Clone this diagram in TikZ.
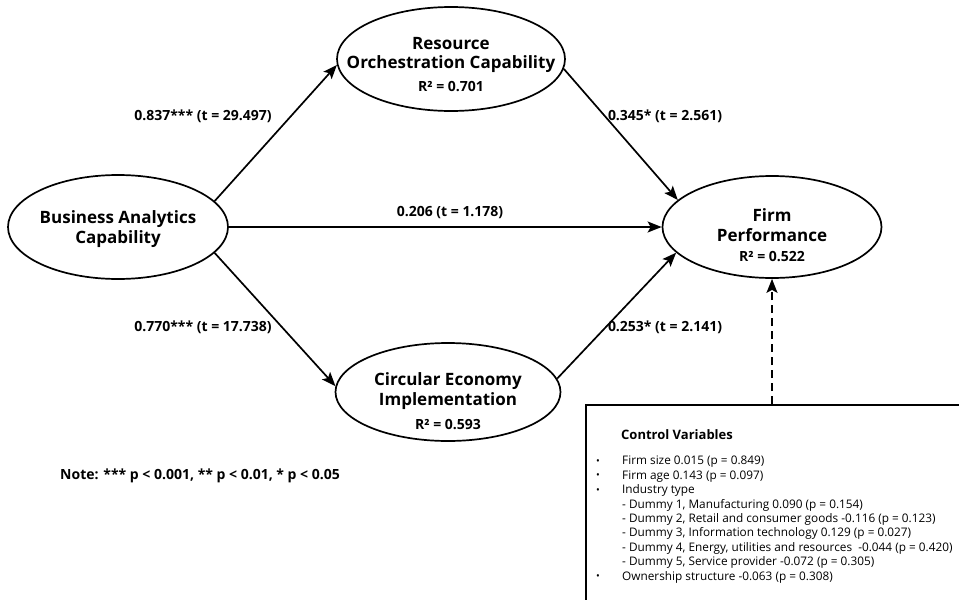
\documentclass[tikz,border=0pt]{standalone}
\usepackage{fontspec}
\setmainfont{Open Sans}
\usetikzlibrary{shapes.geometric,arrows.meta}

\begin{document}
\begin{tikzpicture}[x=1pt,y=-1pt,
  construct/.style={ellipse, draw, line width=1.7pt, inner sep=0pt},
  link/.style={line width=1.7pt, -{Stealth[length=14pt,width=11pt,inset=3pt]}},
  coef/.style={font=\fontsize{14}{16}\selectfont\bfseries},
  ctext/.style={font=\fontsize{17}{19.5}\selectfont\bfseries, align=center},
  rsq/.style={font=\fontsize{14}{16}\selectfont\bfseries},
  ctrltext/.style={font=\fontsize{11.8}{14.4}\selectfont, align=left, anchor=north west, inner sep=0pt},
]
\useasboundingbox (0,0) rectangle (959,600);
\clip (0,0) rectangle (959,600);

% latent constructs
\node[construct, minimum width=220pt, minimum height=104pt] (ba)  at (118,227) {};
\node[construct, minimum width=228pt, minimum height=104pt] (roc) at (451,59) {};
\node[construct, minimum width=219pt, minimum height=102pt] (fp)  at (772,227) {};
\node[construct, minimum width=225pt, minimum height=98pt]  (ce)  at (448,392) {};

\node[ctext] (batxt)  at (118,229) {Business Analytics\\Capability};
\node[ctext] (roctxt) at (451,55)  {Resource\\Orchestration Capability};
\node[rsq]   (rocr)   at (451,87)  {R² = 0.701};
\node[ctext] (fptxt)  at (772,225) {Firm\\Performance};
\node[rsq]   (fpr)    at (772,257) {R² = 0.522};
\node[ctext] (cetxt)  at (448,391) {Circular Economy\\Implementation};
\node[rsq]   (cer)    at (448,425) {R² = 0.593};

% structural paths
\draw[link] (ba.15)   -- (roc.183);
\draw[link] (ba.east) -- (fp.west);
\draw[link] (ba.-15)  -- (ce.177);
\draw[link] (roc.-5)  -- (fp.164);
\draw[link] (ce.7)    -- (fp.195);

% path coefficients
\node[coef] (c1) at (203,116) {0.837*** (t = 29.497)};
\node[coef] (c2) at (665,116) {0.345* (t = 2.561)};
\node[coef] (c3) at (450,213) {0.206 (t = 1.178)};
\node[coef] (c4) at (203,327) {0.770*** (t = 17.738)};
\node[coef] (c5) at (665,327) {0.253* (t = 2.141)};

\node[coef] (note) at (200,476) {Note: *** p < 0.001, ** p < 0.01, * p < 0.05};

% control variables
\node[draw, line width=1.5pt, minimum width=400pt, minimum height=220pt,
      anchor=north west, inner sep=0pt] (ctrl) at (585,404) {};
\draw[line width=1.7pt, dash pattern=on 8pt off 5pt,
      -{Stealth[length=14pt,width=11pt,inset=3pt]}] (ctrl.north -| fp.south) -- (fp.south);

\node[font=\fontsize{13}{15}\selectfont\bfseries, anchor=west, inner sep=0pt] (ctitle) at (621,435) {Control Variables};
\newcommand{\blt}{\makebox[26pt][l]{\raisebox{0.5pt}{\fontsize{10}{10}\selectfont•}}}
\newcommand{\ind}{\hspace*{26pt}}
\node[ctrltext] (clist) at (596,456) {%
\blt Firm size 0.015 (p = 0.849)\\
\blt Firm age 0.143 (p = 0.097)\\
\blt Industry type\\
\ind - Dummy 1, Manufacturing 0.090 (p = 0.154)\\
\ind - Dummy 2, Retail and consumer goods -0.116 (p = 0.123)\\
\ind - Dummy 3, Information technology 0.129 (p = 0.027)\\
\ind - Dummy 4, Energy, utilities and resources\ \ -0.044 (p = 0.420)\\
\ind - Dummy 5, Service provider -0.072 (p = 0.305)\\
\blt Ownership structure -0.063 (p = 0.308)};
\end{tikzpicture}
\end{document}
